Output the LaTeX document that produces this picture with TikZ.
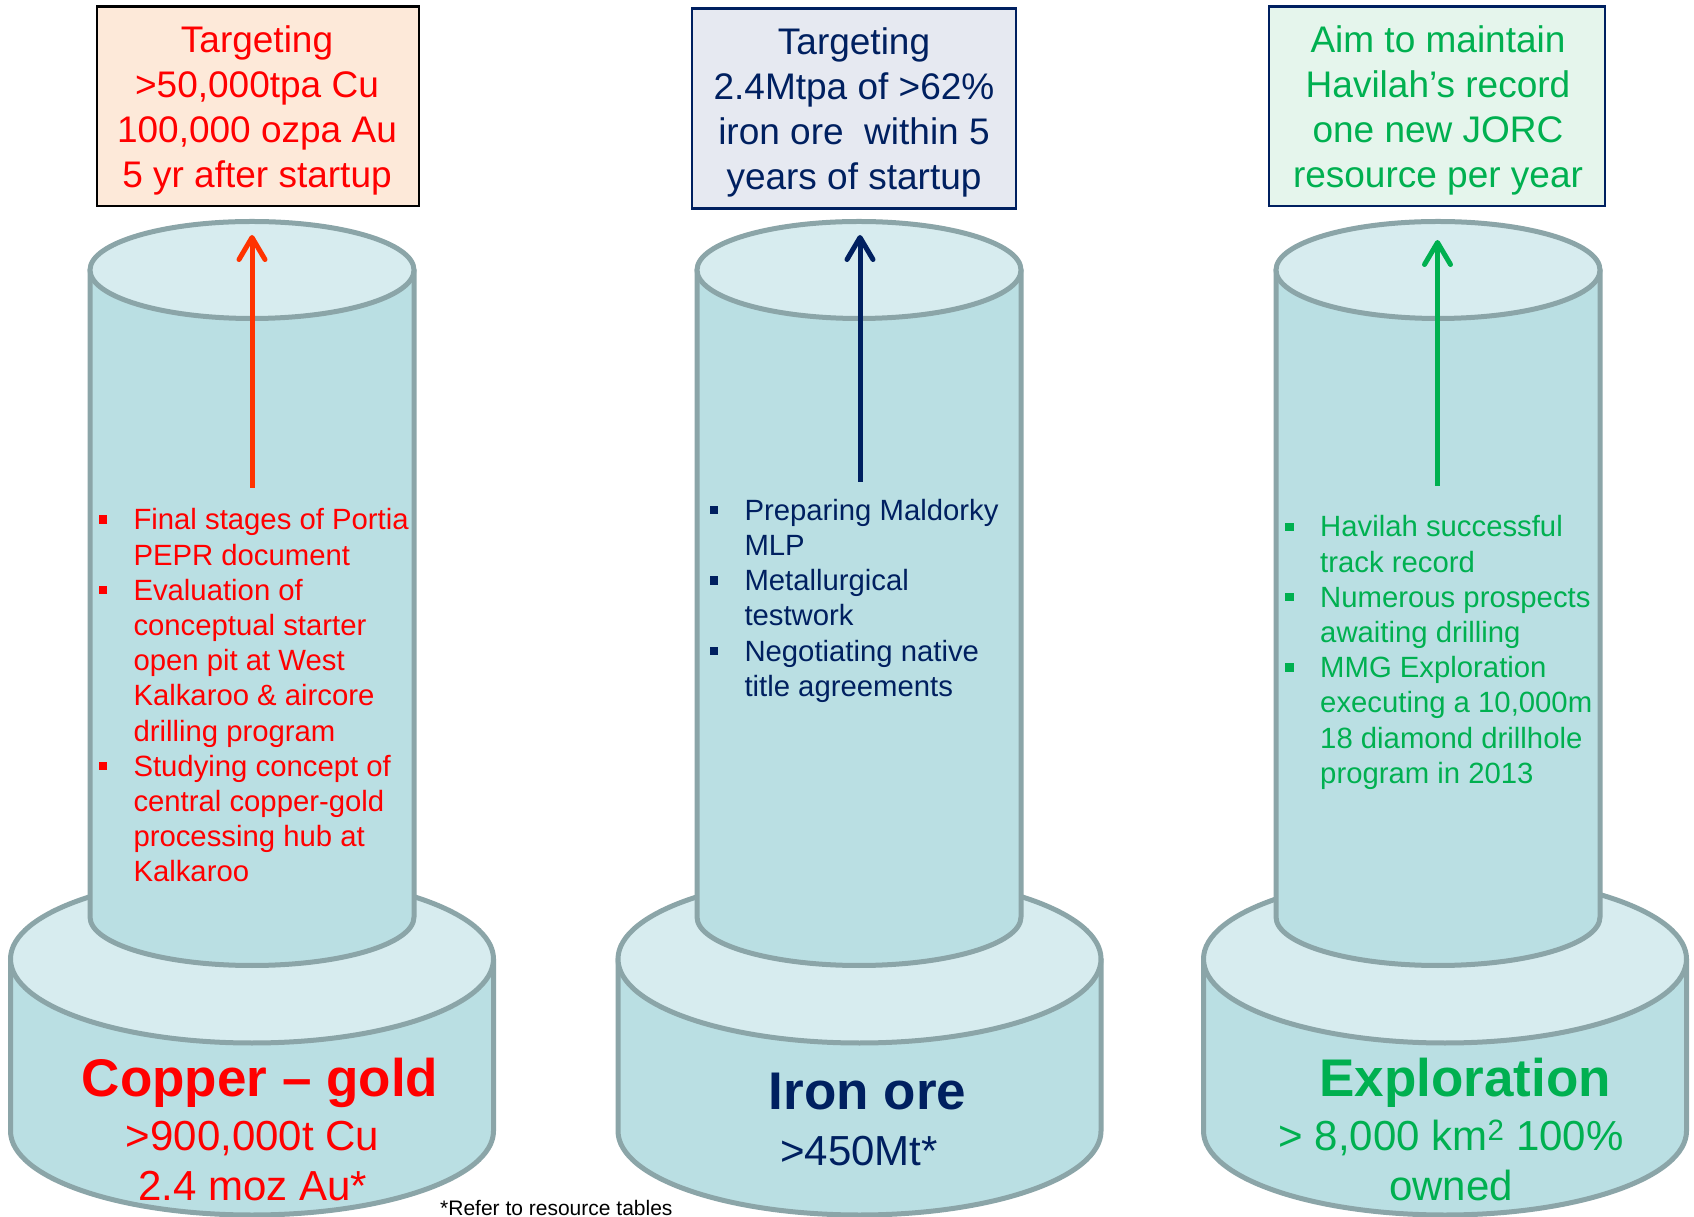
\documentclass[tikz,border=0pt]{standalone}
\usepackage{fontspec}
\setmainfont{Liberation Sans}
\usetikzlibrary{arrows.meta}
\definecolor{cured}{HTML}{FF0000}
\definecolor{arrowred}{HTML}{FF3300}
\definecolor{navy}{HTML}{002060}
\definecolor{grn}{HTML}{00B050}
\definecolor{peach}{HTML}{FDE9D9}
\definecolor{lav}{HTML}{E6E9F1}
\definecolor{mint}{HTML}{E5F5EC}
\definecolor{bodyc}{HTML}{BADFE3}
\definecolor{topc}{HTML}{D7ECEF}
\definecolor{rimc}{HTML}{8BA5A8}
\newcommand{\drawpillar}[2]{%
  \path[pillar] (#1-241.5,257) -- (#1-241.5,85) arc[start angle=180,end angle=360,x radius=241.5,y radius=84] -- (#1+241.5,257) -- cycle;
  \path[pillartop] (#1,257) ellipse[x radius=241.5,y radius=84];
  \path[pillar] (#2-162,946) -- (#2-162,299) arc[start angle=180,end angle=360,x radius=162,y radius=48.5] -- (#2+162,946) -- cycle;
  \path[pillartop] (#2,946) ellipse[x radius=162,y radius=48.5];
}
\newcommand{\bul}{\makebox[0pt][r]{\rule[6pt]{8.4pt}{8.4pt}\hspace{26.6pt}}}
\begin{document}
\begin{tikzpicture}[x=1pt,y=1pt,
  pillar/.style={fill=bodyc,draw=rimc,line width=5pt,line join=round},
  pillartop/.style={fill=topc,draw=rimc,line width=5pt},
  goalbox/.style={rectangle,line width=2.5pt,inner sep=0pt},
  boxtext/.style={anchor=base,inner sep=0pt,font=\fontsize{37}{45}\selectfont},
  bullets/.style={anchor=base west,inner sep=0pt,font=\fontsize{29.3}{35.2}\selectfont},
  titletext/.style={anchor=base,inner sep=0pt,font=\fontsize{53}{60}\selectfont\bfseries},
  subtext/.style={anchor=base,inner sep=0pt,font=\fontsize{42}{50}\selectfont},
  uparrow/.style={line width=5pt,-{Straight Barb[round,length=22pt,width=26pt]}}]
\useasboundingbox (0,0) rectangle (1694,1216);
\fill[white] (0,0) rectangle (1694,1216);
% goal boxes
\node[goalbox,fill=peach,draw=black,minimum width=322pt,minimum height=199.5pt] (bxL) at (258,1109.75) {};
\node[goalbox,fill=lav,draw=navy,minimum width=324pt,minimum height=200pt] (bxM) at (854,1107.5) {};
\node[goalbox,fill=mint,draw=navy,minimum width=336pt,minimum height=199.5pt] (bxR) at (1437,1109.75) {};
\node[boxtext,text=cured] (tL) at (257,1163) {\parbox[t]{330pt}{\centering Targeting\\ >50,000tpa Cu\\ 100,000 ozpa Au\\ 5 yr after startup}};
\node[boxtext,text=navy] (tM) at (854,1161.7) {\parbox[t]{330pt}{\centering Targeting\\ 2.4Mtpa of >62\%\\ iron ore\ \ within 5\\ years of startup}};
\node[boxtext,text=grn] (tR) at (1438,1163.3) {\parbox[t]{340pt}{\centering Aim to maintain\\ Havilah’s record\\ one new JORC\\ resource per year}};
% pillars
\drawpillar{252}{252}
\drawpillar{859.5}{859}
\drawpillar{1445}{1438}
% arrows
\coordinate (aL0) at (252,728);
\coordinate (aL1) at (252,981);
\coordinate (aM0) at (860,734);
\coordinate (aM1) at (860,981);
\coordinate (aR0) at (1437.5,730);
\coordinate (aR1) at (1437.5,976);
\draw[uparrow,arrowred] (aL0) -- (aL1);
\draw[uparrow,navy] (aM0) -- (aM1);
\draw[uparrow,grn] (aR0) -- (aR1);
% bullet lists
\node[bullets,text=cured] (lL) at (133.3,686.1) {\parbox[t]{340pt}{\raggedright
\bul Final stages of Portia\\ PEPR document\par
\bul Evaluation of\\ conceptual starter\\ open pit at West\\ Kalkaroo \& aircore\\ drilling program\par
\bul Studying concept of\\ central copper-gold\\ processing hub at\\ Kalkaroo}};
\node[bullets,text=navy] (lM) at (744.3,695.7) {\parbox[t]{340pt}{\raggedright
\bul Preparing Maldorky\\ MLP\par
\bul Metallurgical\\ testwork\par
\bul Negotiating native\\ title agreements}};
\node[bullets,text=grn] (lR) at (1320,679) {\parbox[t]{340pt}{\raggedright
\bul Havilah successful\\ track record\par
\bul Numerous prospects\\ awaiting drilling\par
\bul MMG Exploration\\ executing a 10,000m\\ 18 diamond drillhole\\ program in 2013}};
% base texts
\node[titletext,text=cured] (hL) at (260,119.3) {Copper – gold};
\node[subtext,text=cured] (sL) at (252.5,66) {\parbox[t]{400pt}{\centering >900,000t Cu\\ 2.4 moz Au*}};
\node[titletext,text=navy] (hM) at (867.5,106.7) {Iron ore};
\node[subtext,text=navy] (sM) at (859,51) {>450Mt*};
\node[titletext,text=grn] (hR) at (1465,119.3) {Exploration};
\node[subtext,text=grn] (sR) at (1451,66) {\parbox[t]{400pt}{\centering > 8,000 km\textsuperscript{2} 100\%\\ owned}};
\node[anchor=base west,inner sep=0pt,font=\fontsize{21}{25}\selectfont] (fn) at (440,1) {*Refer to resource tables};
\end{tikzpicture}
\end{document}
